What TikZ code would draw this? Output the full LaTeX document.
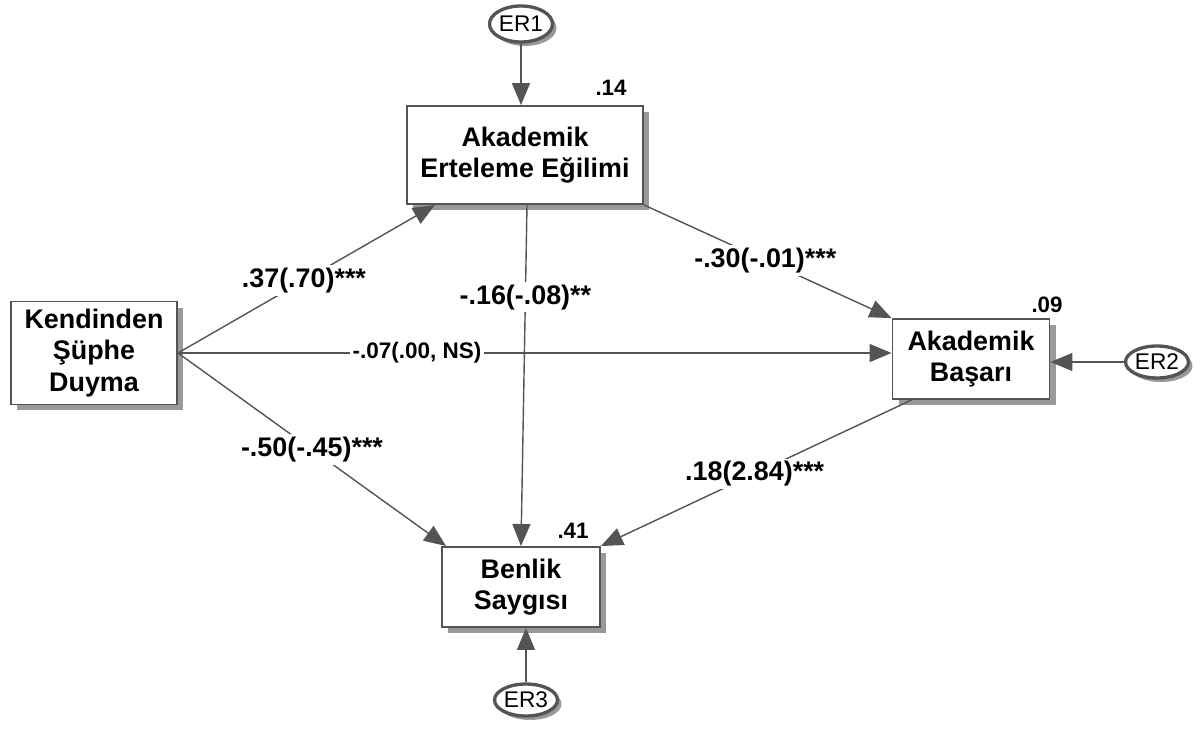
\documentclass[tikz,border=0pt]{standalone}
\usepackage{fontspec}
\setmainfont{Liberation Sans}
\usetikzlibrary{arrows.meta,shapes.geometric,shadows}
\definecolor{linegray}{gray}{0.33}
\definecolor{shadegray}{gray}{0.6}

\begin{document}
\begin{tikzpicture}[
    x = 0.02cm,
    y = -0.02cm,
    >={Triangle[length=0.44cm,width=0.36cm]},
    box/.style = {
      draw = linegray,
      fill = white,
      line width = 1.1pt,
      align = center,
      inner sep = 0pt,
      font = \fontsize{15.3}{18}\selectfont\bfseries,
      drop shadow = {shadow xshift=0.12cm, shadow yshift=-0.12cm,
        fill=shadegray, opacity=1}
    },
    err/.style = {
      draw = linegray,
      fill = white,
      ellipse,
      line width = 1.9pt,
      inner sep = 0pt,
      minimum width = 1.26cm,
      minimum height = 0.64cm,
      font = \fontsize{12.9}{15}\selectfont,
      drop shadow = {shadow xshift=0.08cm, shadow yshift=-0.08cm,
        fill=shadegray, opacity=1}
    },
    path/.style = {
      draw = linegray,
      line width = 0.8pt,
      ->
    },
    coef/.style = {
      fill = white,
      inner sep = 1.5pt,
      font = \fontsize{15.3}{18}\selectfont\bfseries
    },
    rsq/.style = {
      font = \fontsize{12.7}{15}\selectfont\bfseries
    }
  ]
  \useasboundingbox (0,0) rectangle (1202,733);

  \node[box, minimum width=3.32cm, minimum height=2.06cm] (kendinden) at (94,353) {Kendinden\\Şüphe\\Duyma};
  \node[box, minimum width=4.72cm, minimum height=1.96cm] (erteleme) at (525,155) {Akademik\\Erteleme Eğilimi};
  \node[box, minimum width=3.14cm, minimum height=1.6cm] (basari) at (971,359) {Akademik\\Başarı};
  \node[box, minimum width=3.16cm, minimum height=1.6cm] (benlik) at (521,587) {Benlik\\Saygısı};

  \node[err, minimum height=0.72cm] (er1) at (521,24) {ER1};
  \node[err] (er2) at (1157,362) {ER2};
  \node[err] (er3) at (526,700) {ER3};

  \node[rsq] (r1) at (611,88) {.14};
  \node[rsq] (r2) at (1047,305) {.09};
  \node[rsq] (r3) at (573,531) {.41};

  \draw[path] (er1) -- (er1 |- erteleme.north);
  \draw[path] (er2) -- (er2 -| basari.east);
  \draw[path] (er3) -- (er3 |- benlik.south);

  \draw[path] (kendinden.east) -- ([xshift=0.58cm]erteleme.south west)
    node[coef, pos=0.49] {.37(.70)***};
  \draw[path] (kendinden.east) -- (kendinden.east -| basari.west)
    node[coef, pos=0.335, font=\fontsize{12.8}{15}\selectfont\bfseries] {-.07(.00, NS)};
  \draw[path] (kendinden.east) -- ([xshift=0.1cm]benlik.north west)
    node[coef, pos=0.5] {-.50(-.45)***};
  \draw[path] ([xshift=0.04cm]erteleme.south) -- (benlik.north)
    node[coef, pos=0.27] {-.16(-.08)**};
  \draw[path] (erteleme.south east) -- (basari.north west)
    node[coef, pos=0.49] {-.30(-.01)***};
  \draw[path] ([xshift=0.4cm]basari.south west) -- (benlik.north east)
    node[coef, pos=0.505] {.18(2.84)***};

\end{tikzpicture}
\end{document}
